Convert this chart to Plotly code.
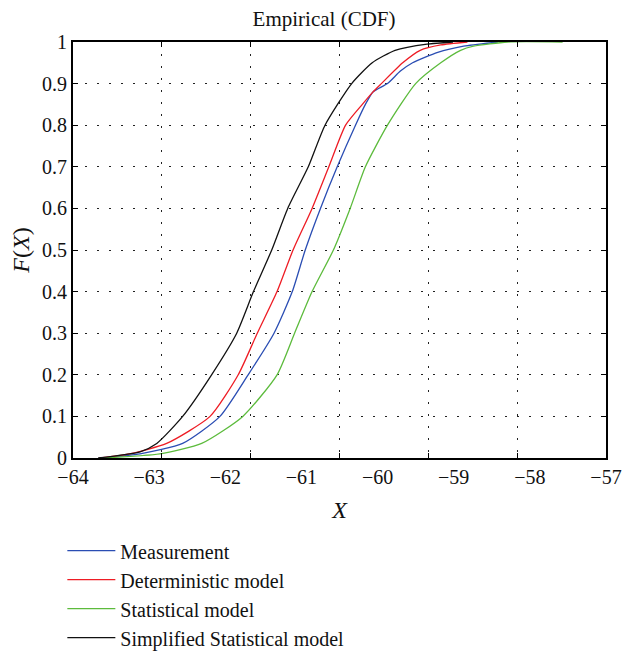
"""Empirical CDF comparison: measurement vs. three propagation models."""
import plotly.graph_objects as go

# cumulative probability levels and the X value each curve reaches there
measurement_f = [0, 0.01, 0.035, 0.1, 0.2, 0.3, 0.4, 0.5, 0.6, 0.7, 0.8, 0.85, 0.88, 0.9, 0.93, 0.95, 0.975, 0.99, 1.0]
measurement_x = [-63.65, -63.12, -62.56, -62.07, -61.70, -61.36, -61.12, -60.95, -60.75, -60.53, -60.29,
                 -60.16, -60.06, -59.87, -59.70, -59.54, -59.21, -58.87, -58.42]

deterministic_f = [0, 0.01, 0.035, 0.1, 0.2, 0.3, 0.4, 0.5, 0.6, 0.7, 0.8, 0.85, 0.88, 0.9, 0.95, 0.98, 0.993, 1.0]
deterministic_x = [-63.65, -63.26, -62.77, -62.20, -61.83, -61.58, -61.32, -61.11, -60.86, -60.64, -60.42,
                   -60.20, -60.06, -59.95, -59.67, -59.44, -59.17, -58.82]

statistical_f = [0, 0.01, 0.035, 0.1, 0.2, 0.3, 0.4, 0.5, 0.6, 0.7, 0.8, 0.9, 0.95, 0.98, 0.99, 1.0, 1.0]
statistical_x = [-63.62, -62.86, -62.31, -61.77, -61.32, -61.09, -60.86, -60.58, -60.36, -60.16, -59.87,
                 -59.50, -59.17, -58.91, -58.74, -58.29, -57.57]

simplified_f = [0, 0.015, 0.035, 0.1, 0.2, 0.3, 0.4, 0.5, 0.6, 0.7, 0.8, 0.9, 0.95, 0.98, 0.995, 1.0]
simplified_x = [-63.67, -63.12, -62.90, -62.56, -62.18, -61.85, -61.63, -61.39, -61.18, -60.91, -60.69,
                -60.34, -60.07, -59.77, -59.35, -59.01]

x_ticks = [-64, -63, -62, -61, -60, -59, -58, -57]
x_tick_text = ["\u221264", "\u221263", "\u221262", "\u221261", "\u221260", "\u221259", "\u221258", "\u221257"]

series = [
    ("Measurement", measurement_x, measurement_f, "#2a4db3"),
    ("Deterministic model", deterministic_x, deterministic_f, "#ee1c24"),
    ("Statistical model", statistical_x, statistical_f, "#5cbb3c"),
    ("Simplified Statistical model", simplified_x, simplified_f, "#111111"),
]

FONT = "Liberation Serif, Times New Roman, serif"

fig = go.Figure()
for i, (name, xs, fs, color) in enumerate(series):
    fig.add_trace(go.Scatter(x=xs, y=fs, name=name, mode="lines", legendgroup=str(i),
                             line=dict(color=color, width=1.3, shape="spline", smoothing=0.6)))

# helper trace so the grid axis (six equal divisions) gets drawn
fig.add_trace(go.Scatter(x=[0, 6], y=[0, 0], xaxis="x2", mode="none",
                         showlegend=False, hoverinfo="skip"))

fig.update_layout(
    width=622, height=656,
    paper_bgcolor="white", plot_bgcolor="white",
    font=dict(family=FONT, size=20, color="#111111"),
    margin=dict(l=73, r=16, t=42, b=198, autoexpand=False),
    title=dict(text="Empirical (CDF)", x=0.521, xanchor="center", y=0.971, yanchor="middle",
               font=dict(size=21)),
    xaxis=dict(range=[-64, -57], tickvals=x_ticks, ticktext=x_tick_text, ticks="",
               showgrid=False, zeroline=False, showline=True, linewidth=2, linecolor="black",
               mirror=True, automargin=False, title=dict(text="<i>X</i>", standoff=14)),
    xaxis2=dict(range=[0, 6], dtick=1, overlaying="x", anchor="y", side="bottom",
                showticklabels=False, ticks="inside", ticklen=5, tickcolor="black", mirror="ticks",
                showline=False, zeroline=False, showgrid=True, gridcolor="#222222", gridwidth=1,
                griddash="2px,10px", automargin=False),
    yaxis=dict(range=[0, 1], dtick=0.1, ticks="inside", ticklen=5, tickcolor="black",
               showline=True, linewidth=2, linecolor="black", mirror="ticks", zeroline=False,
               showgrid=True, gridcolor="#222222", gridwidth=1, griddash="2px,10px",
               automargin=False, title=dict(text="<i>F</i>(<i>X</i>)", standoff=6)),
    legend=dict(x=-0.02, y=-0.176, xanchor="left", yanchor="top", tracegroupgap=0,
                traceorder="grouped", font=dict(size=20), itemwidth=48, bgcolor="rgba(0,0,0,0)"),
    showlegend=True,
)

# drop the default page margin so the figure fills the window exactly
fig.write_html("out.html", config={"displayModeBar": False},
               post_script="document.body.style.margin = '0';")
